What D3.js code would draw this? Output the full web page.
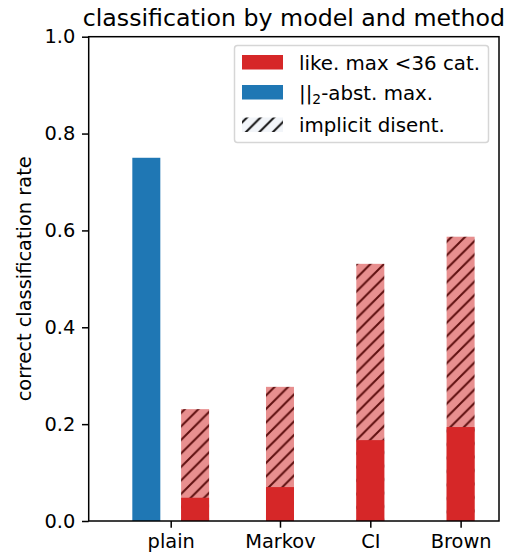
<!DOCTYPE html>
<html>
<head>
<meta charset="utf-8">
<script src="https://cdn.jsdelivr.net/npm/d3@7"></script>
<style>
  html, body { margin: 0; padding: 0; background: #fff; }
  svg { display: block; font-family: "DejaVu Sans", sans-serif; }
</style>
</head>
<body>
<svg id="chart" width="513" height="559"></svg>
<script>
// ---- data ----
const categories = ["plain", "Markov", "CI", "Brown"];
const likeMax = [0.048, 0.070, 0.167, 0.194];          // solid red
const implicitDisent = [0.231, 0.277, 0.531, 0.587];   // hatched (total height)
const absMax = [0.750, null, null, null];              // blue
const yTicks = [0.0, 0.2, 0.4, 0.6, 0.8, 1.0];
const legendLabels = ["like. max <36 cat.", "||2-abst. max.", "implicit disent."];
const titleText = "classification by model and method";
const yLabel = "correct classification rate";

// ---- layout ----
const svg = d3.select("#chart");
const L = 88.7, R = 499, T = 36.7, B = 521;
const x = d3.scaleLinear().domain([-1.118, 3.425]).range([L, R]);
const y = d3.scaleLinear().domain([0, 1]).range([B, T]);
const barW = 0.31;
const redPos = [0.06, 1, 2, 3];
const bluePos = [-0.48, null, null, null];
const tickPos = categories.map((c, i) => bluePos[i] != null ? (bluePos[i] + redPos[i]) / 2 : redPos[i]);

const RED = "#d62728", PINK = "#e88f8f", BLUE = "#1f77b4", HATCH = "#5e0f0f";
const FS = 19.4, LFS = 19.8;

// hatch patterns
const defs = svg.append("defs");
function hatch(id, color, bg, s, w) {
  const p = defs.append("pattern").attr("id", id)
    .attr("patternUnits", "userSpaceOnUse")
    .attr("width", s).attr("height", s);
  if (bg) p.append("rect").attr("width", s).attr("height", s).attr("fill", bg);
  p.append("path")
    .attr("d", `M0,${s} L${s},0 M${-s/2},${s/2} L${s/2},${-s/2} M${s/2},${s*1.5} L${s*1.5},${s/2}`)
    .attr("stroke", color).attr("stroke-width", w).attr("stroke-linecap", "square");
}
hatch("hatchBar", HATCH, PINK, 13.5, 2.0);
hatch("hatchLeg", "#111", "#f2f5f9", 13.5, 2.0);

const g = svg.append("g");

// hatched bars (total)
g.selectAll("rect.hat").data(implicitDisent).join("rect").attr("class", "hat")
  .attr("x", (d, i) => x(redPos[i] - barW / 2))
  .attr("width", (d, i) => x(redPos[i] + barW / 2) - x(redPos[i] - barW / 2))
  .attr("y", d => y(d)).attr("height", d => y(0) - y(d))
  .attr("fill", "url(#hatchBar)");

// solid red bars
g.selectAll("rect.red").data(likeMax).join("rect").attr("class", "red")
  .attr("x", (d, i) => x(redPos[i] - barW / 2))
  .attr("width", (d, i) => x(redPos[i] + barW / 2) - x(redPos[i] - barW / 2))
  .attr("y", d => y(d)).attr("height", d => y(0) - y(d))
  .attr("fill", RED);

// blue bars
g.selectAll("rect.blue").data(absMax.map((v, i) => ({v, i})).filter(d => d.v != null)).join("rect")
  .attr("class", "blue")
  .attr("x", d => x(bluePos[d.i] - barW / 2))
  .attr("width", d => x(bluePos[d.i] + barW / 2) - x(bluePos[d.i] - barW / 2))
  .attr("y", d => y(d.v)).attr("height", d => y(0) - y(d.v))
  .attr("fill", BLUE);

// axes
const yAxis = d3.axisLeft(y).tickValues(yTicks).tickFormat(d3.format(".1f"))
  .tickSize(6.7).tickPadding(6.7);
const xAxis = d3.axisBottom(x).tickValues(tickPos).tickFormat((d, i) => categories[i])
  .tickSize(6.7).tickPadding(6.7);

const ya = svg.append("g").attr("transform", `translate(${L},0)`).call(yAxis);
const xa = svg.append("g").attr("transform", `translate(0,${B})`).call(xAxis);
[ya, xa].forEach(a => {
  a.select(".domain").remove();
  a.selectAll(".tick line").attr("stroke", "#000").attr("stroke-width", 1.5);
  a.selectAll(".tick text").attr("font-size", FS).attr("fill", "#000")
    .attr("font-family", "DejaVu Sans");
});

// frame
svg.append("rect").attr("x", L).attr("y", T).attr("width", R - L).attr("height", B - T)
  .attr("fill", "none").attr("stroke", "#000").attr("stroke-width", 1.5);

// title
svg.append("text").attr("x", (L + R) / 2).attr("y", 26).attr("text-anchor", "middle")
  .attr("font-size", 23.7).attr("fill", "#000").text(titleText);

// y label
svg.append("text").attr("transform", `translate(31,${(T + B) / 2}) rotate(-90)`)
  .attr("text-anchor", "middle").attr("font-size", FS).attr("fill", "#000").text(yLabel);

// legend
const lg = svg.append("g");
lg.append("rect").attr("x", 234.5).attr("y", 45.5).attr("width", 254).attr("height", 97)
  .attr("rx", 3).attr("fill", "#fff").attr("fill-opacity", 0.8)
  .attr("stroke", "#d6d6d6").attr("stroke-width", 1.5);
const legFills = [RED, BLUE, "url(#hatchLeg)"];
const rowTop = [55, 85, 117.5];
const rowBase = [70, 100, 131.5];
legendLabels.forEach((lab, i) => {
  lg.append("rect").attr("x", 242).attr("y", rowTop[i]).attr("width", 41).attr("height", 14.5)
    .attr("fill", legFills[i]);
  const t = lg.append("text").attr("x", 299).attr("y", rowBase[i]).attr("font-size", LFS).attr("fill", "#000");
  if (lab.startsWith("||2")) {
    t.append("tspan").text("||");
    t.append("tspan").attr("font-size", LFS * 0.7).attr("dy", 4).text("2");
    t.append("tspan").attr("dy", -4).text(lab.slice(3));
  } else {
    t.text(lab);
  }
});
</script>
</body>
</html>
